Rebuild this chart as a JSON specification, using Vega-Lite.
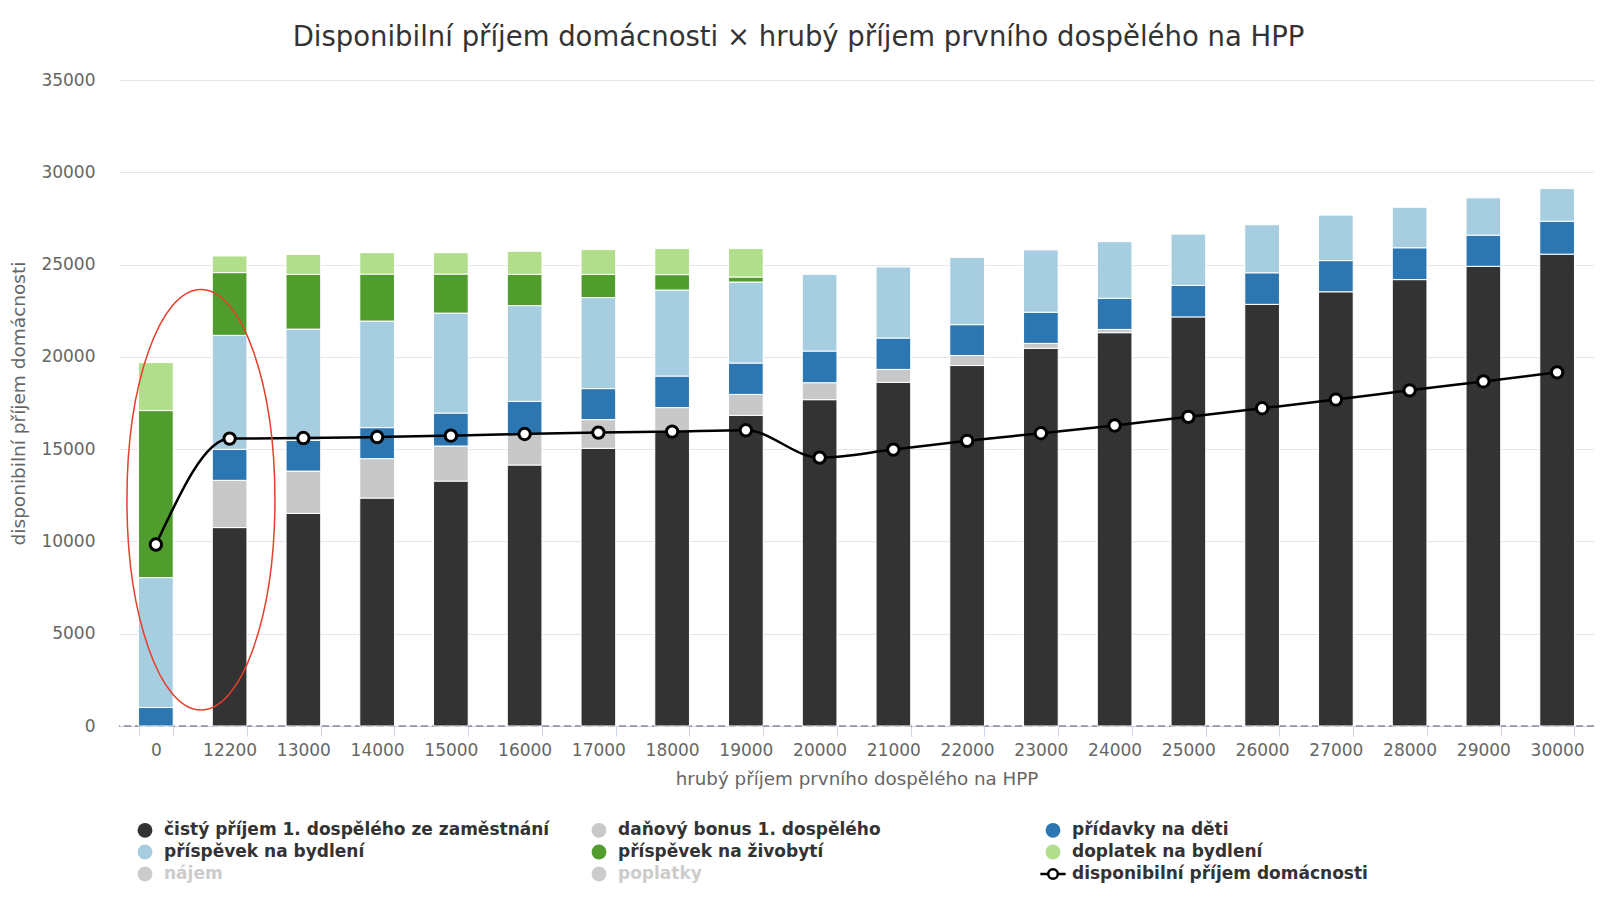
{
  "$schema": "https://vega.github.io/schema/vega-lite/v6.json",
  "width": 1475,
  "height": 646,
  "autosize": {"type": "none"},
  "padding": {"left": 119, "top": 80, "right": 14, "bottom": 179},
  "background": "#ffffff",
  "config": {"view": {"stroke": null}},
  "title": {
    "text": "Disponibilní příjem domácnosti × hrubý příjem prvního dospělého na HPP",
    "font": "DejaVu Sans",
    "fontSize": 27.5,
    "fontWeight": "normal",
    "color": "#333333",
    "anchor": "middle",
    "frame": "group",
    "dx": -58,
    "offset": 20
  },
  "datasets": {
    "bars": [
      {"x": "0", "series": "přídavky na děti", "value": 1000},
      {"x": "0", "series": "příspěvek na bydlení", "value": 7040},
      {"x": "0", "series": "příspěvek na živobytí", "value": 9050},
      {"x": "0", "series": "doplatek na bydlení", "value": 2600},
      {"x": "12200", "series": "čistý příjem 1. dospělého ze zaměstnání", "value": 10750},
      {"x": "12200", "series": "daňový bonus 1. dospělého", "value": 2560},
      {"x": "12200", "series": "přídavky na děti", "value": 1680},
      {"x": "12200", "series": "příspěvek na bydlení", "value": 6175},
      {"x": "12200", "series": "příspěvek na živobytí", "value": 3400},
      {"x": "12200", "series": "doplatek na bydlení", "value": 900},
      {"x": "13000", "series": "čistý příjem 1. dospělého ze zaměstnání", "value": 11520},
      {"x": "13000", "series": "daňový bonus 1. dospělého", "value": 2290},
      {"x": "13000", "series": "přídavky na děti", "value": 1665},
      {"x": "13000", "series": "příspěvek na bydlení", "value": 6030},
      {"x": "13000", "series": "příspěvek na živobytí", "value": 2965},
      {"x": "13000", "series": "doplatek na bydlení", "value": 1080},
      {"x": "14000", "series": "čistý příjem 1. dospělého ze zaměstnání", "value": 12350},
      {"x": "14000", "series": "daňový bonus 1. dospělého", "value": 2135},
      {"x": "14000", "series": "přídavky na děti", "value": 1680},
      {"x": "14000", "series": "příspěvek na bydlení", "value": 5775},
      {"x": "14000", "series": "příspěvek na živobytí", "value": 2545},
      {"x": "14000", "series": "doplatek na bydlení", "value": 1160},
      {"x": "15000", "series": "čistý příjem 1. dospělého ze zaměstnání", "value": 13270},
      {"x": "15000", "series": "daňový bonus 1. dospělého", "value": 1900},
      {"x": "15000", "series": "přídavky na děti", "value": 1785},
      {"x": "15000", "series": "příspěvek na bydlení", "value": 5415},
      {"x": "15000", "series": "příspěvek na živobytí", "value": 2115},
      {"x": "15000", "series": "doplatek na bydlení", "value": 1160},
      {"x": "16000", "series": "čistý příjem 1. dospělého ze zaměstnání", "value": 14140},
      {"x": "16000", "series": "daňový bonus 1. dospělého", "value": 1660},
      {"x": "16000", "series": "přídavky na děti", "value": 1790},
      {"x": "16000", "series": "příspěvek na bydlení", "value": 5185},
      {"x": "16000", "series": "příspěvek na živobytí", "value": 1695},
      {"x": "16000", "series": "doplatek na bydlení", "value": 1250},
      {"x": "17000", "series": "čistý příjem 1. dospělého ze zaměstnání", "value": 15045},
      {"x": "17000", "series": "daňový bonus 1. dospělého", "value": 1555},
      {"x": "17000", "series": "přídavky na děti", "value": 1680},
      {"x": "17000", "series": "příspěvek na bydlení", "value": 4930},
      {"x": "17000", "series": "příspěvek na živobytí", "value": 1260},
      {"x": "17000", "series": "doplatek na bydlení", "value": 1340},
      {"x": "18000", "series": "čistý příjem 1. dospělého ze zaměstnání", "value": 16000},
      {"x": "18000", "series": "daňový bonus 1. dospělého", "value": 1250},
      {"x": "18000", "series": "přídavky na děti", "value": 1710},
      {"x": "18000", "series": "příspěvek na bydlení", "value": 4660},
      {"x": "18000", "series": "příspěvek na živobytí", "value": 835},
      {"x": "18000", "series": "doplatek na bydlení", "value": 1410},
      {"x": "19000", "series": "čistý příjem 1. dospělého ze zaměstnání", "value": 16830},
      {"x": "19000", "series": "daňový bonus 1. dospělého", "value": 1135},
      {"x": "19000", "series": "přídavky na děti", "value": 1700},
      {"x": "19000", "series": "příspěvek na bydlení", "value": 4390},
      {"x": "19000", "series": "příspěvek na živobytí", "value": 270},
      {"x": "19000", "series": "doplatek na bydlení", "value": 1540},
      {"x": "20000", "series": "čistý příjem 1. dospělého ze zaměstnání", "value": 17680},
      {"x": "20000", "series": "daňový bonus 1. dospělého", "value": 920},
      {"x": "20000", "series": "přídavky na děti", "value": 1715},
      {"x": "20000", "series": "příspěvek na bydlení", "value": 4155},
      {"x": "21000", "series": "čistý příjem 1. dospělého ze zaměstnání", "value": 18620},
      {"x": "21000", "series": "daňový bonus 1. dospělého", "value": 700},
      {"x": "21000", "series": "přídavky na děti", "value": 1700},
      {"x": "21000", "series": "příspěvek na bydlení", "value": 3850},
      {"x": "22000", "series": "čistý příjem 1. dospělého ze zaměstnání", "value": 19530},
      {"x": "22000", "series": "daňový bonus 1. dospělého", "value": 545},
      {"x": "22000", "series": "přídavky na děti", "value": 1670},
      {"x": "22000", "series": "příspěvek na bydlení", "value": 3645},
      {"x": "23000", "series": "čistý příjem 1. dospělého ze zaměstnání", "value": 20460},
      {"x": "23000", "series": "daňový bonus 1. dospělého", "value": 270},
      {"x": "23000", "series": "přídavky na děti", "value": 1690},
      {"x": "23000", "series": "příspěvek na bydlení", "value": 3375},
      {"x": "24000", "series": "čistý příjem 1. dospělého ze zaměstnání", "value": 21310},
      {"x": "24000", "series": "daňový bonus 1. dospělého", "value": 175},
      {"x": "24000", "series": "přídavky na děti", "value": 1690},
      {"x": "24000", "series": "příspěvek na bydlení", "value": 3065},
      {"x": "25000", "series": "čistý příjem 1. dospělého ze zaměstnání", "value": 22165},
      {"x": "25000", "series": "přídavky na děti", "value": 1710},
      {"x": "25000", "series": "příspěvek na bydlení", "value": 2775},
      {"x": "26000", "series": "čistý příjem 1. dospělého ze zaměstnání", "value": 22845},
      {"x": "26000", "series": "přídavky na děti", "value": 1710},
      {"x": "26000", "series": "příspěvek na bydlení", "value": 2600},
      {"x": "27000", "series": "čistý příjem 1. dospělého ze zaměstnání", "value": 23525},
      {"x": "27000", "series": "přídavky na děti", "value": 1690},
      {"x": "27000", "series": "příspěvek na bydlení", "value": 2465},
      {"x": "28000", "series": "čistý příjem 1. dospělého ze zaměstnání", "value": 24185},
      {"x": "28000", "series": "přídavky na děti", "value": 1725},
      {"x": "28000", "series": "příspěvek na bydlení", "value": 2195},
      {"x": "29000", "series": "čistý příjem 1. dospělého ze zaměstnání", "value": 24905},
      {"x": "29000", "series": "přídavky na děti", "value": 1690},
      {"x": "29000", "series": "příspěvek na bydlení", "value": 2020},
      {"x": "30000", "series": "čistý příjem 1. dospělého ze zaměstnání", "value": 25565},
      {"x": "30000", "series": "přídavky na děti", "value": 1785},
      {"x": "30000", "series": "příspěvek na bydlení", "value": 1765}
    ],
    "line": [
      {"x": "0", "value": 9830},
      {"x": "12200", "value": 15570},
      {"x": "13000", "value": 15600},
      {"x": "14000", "value": 15655},
      {"x": "15000", "value": 15730},
      {"x": "16000", "value": 15820},
      {"x": "17000", "value": 15895},
      {"x": "18000", "value": 15950},
      {"x": "19000", "value": 16020},
      {"x": "20000", "value": 14540},
      {"x": "21000", "value": 14975},
      {"x": "22000", "value": 15450},
      {"x": "23000", "value": 15860},
      {"x": "24000", "value": 16285},
      {"x": "25000", "value": 16750},
      {"x": "26000", "value": 17215},
      {"x": "27000", "value": 17685},
      {"x": "28000", "value": 18185},
      {"x": "29000", "value": 18670},
      {"x": "30000", "value": 19160}
    ],
    "anno": [
      {"x": "0", "value": 12260}
    ]
  },
  "layer": [
    {
      "data": {"values": [{}]},
      "mark": {"type": "rule", "color": "#8a8a95", "strokeWidth": 1.5, "strokeDash": [7, 4]},
      "encoding": {"y": {"datum": 0, "type": "quantitative"}}
    },
    {
      "data": {"name": "bars"},
      "transform": [
        {"calculate": "indexof(['čistý příjem 1. dospělého ze zaměstnání', 'daňový bonus 1. dospělého', 'přídavky na děti', 'příspěvek na bydlení', 'příspěvek na živobytí', 'doplatek na bydlení'], datum.series)", "as": "k"}
      ],
      "mark": {"type": "bar", "stroke": "#ffffff", "strokeWidth": 1},
      "encoding": {
        "x": {
          "field": "x",
          "type": "nominal",
          "sort": null,
          "scale": {
            "domain": ["0", "12200", "13000", "14000", "15000", "16000", "17000", "18000", "19000", "20000", "21000", "22000", "23000", "24000", "25000", "26000", "27000", "28000", "29000", "30000"],
            "paddingInner": 0.53,
            "paddingOuter": 0.265
          },
          "axis": {
            "title": "hrubý příjem prvního dospělého na HPP",
            "labelAngle": 0,
            "tickBand": "extent",
            "tickColor": "#ccd6eb",
            "tickSize": 10,
            "domainColor": "#ccd6eb",
            "grid": false,
            "labelColor": "#666666",
            "labelFont": "DejaVu Sans",
            "labelFontSize": 17,
            "labelPadding": 6,
            "titleColor": "#666666",
            "titleFont": "DejaVu Sans",
            "titleFontSize": 18.3,
            "titleFontWeight": "normal",
            "titlePadding": 12
          }
        },
        "y": {
          "aggregate": "sum",
          "field": "value",
          "type": "quantitative",
          "stack": "zero",
          "scale": {"domain": [0, 35000]},
          "axis": {
            "title": "disponibilní příjem domácnosti",
            "values": [0, 5000, 10000, 15000, 20000, 25000, 30000, 35000],
            "format": "d",
            "grid": true,
            "gridColor": "#e6e6e6",
            "domain": false,
            "ticks": false,
            "labelPadding": 24,
            "labelColor": "#666666",
            "labelFont": "DejaVu Sans",
            "labelFontSize": 17,
            "titleColor": "#666666",
            "titleFont": "DejaVu Sans",
            "titleFontSize": 18.5,
            "titleFontWeight": "normal",
            "titlePadding": 12
          }
        },
        "order": {"field": "k", "type": "quantitative"},
        "color": {
          "field": "series",
          "type": "nominal",
          "sort": ["čistý příjem 1. dospělého ze zaměstnání", "daňový bonus 1. dospělého", "přídavky na děti", "příspěvek na bydlení", "příspěvek na živobytí", "doplatek na bydlení", "nájem", "poplatky", "disponibilní příjem domácnosti"],
          "scale": {
            "domain": ["čistý příjem 1. dospělého ze zaměstnání", "daňový bonus 1. dospělého", "přídavky na děti", "příspěvek na bydlení", "příspěvek na živobytí", "doplatek na bydlení", "nájem", "poplatky", "disponibilní příjem domácnosti"],
            "range": ["#333333", "#c8c8c8", "#2c77b1", "#a6cde0", "#509d2e", "#b1de8a", "#cccccc", "#cccccc", "#ffffff"]
          },
          "legend": {
            "title": null,
            "orient": "none",
            "legendX": 17,
            "legendY": 741,
            "direction": "horizontal",
            "columns": 3,
            "gridAlign": "all",
            "columnPadding": 31,
            "rowPadding": -4,
            "symbolSize": 220,
            "symbolType": {"expr": "datum.value === 'disponibilní příjem domácnosti' ? 'M-1.7,0L-0.65,0M0.65,0L1.7,0M-0.65,0A0.65,0.65 0 1,1 0.65,0A0.65,0.65 0 1,1 -0.65,0' : 'circle'"},
            "symbolStrokeColor": {"expr": "datum.value === 'disponibilní příjem domácnosti' ? '#000000' : 'transparent'"},
            "symbolStrokeWidth": 2.5,
            "labelFont": "DejaVu Sans",
            "labelFontSize": 17,
            "labelFontWeight": "bold",
            "labelColor": {"expr": "datum.label === 'nájem' || datum.label === 'poplatky' ? '#cccccc' : '#333333'"},
            "labelOffset": 10,
            "labelLimit": 600
          }
        }
      }
    },
    {
      "data": {"name": "line"},
      "mark": {"type": "line", "color": "#000000", "strokeWidth": 2.5, "interpolate": "monotone"},
      "encoding": {
        "x": {"field": "x", "type": "nominal", "sort": null},
        "y": {"field": "value", "type": "quantitative"}
      }
    },
    {
      "data": {"name": "line"},
      "mark": {"type": "point", "filled": true, "fill": "#ffffff", "stroke": "#000000", "strokeWidth": 3, "size": 130, "opacity": 1},
      "encoding": {
        "x": {"field": "x", "type": "nominal", "sort": null},
        "y": {"field": "value", "type": "quantitative"}
      }
    },
    {
      "data": {"name": "anno"},
      "mark": {
        "type": "point",
        "shape": "M0,-1A0.352,1 0 1,1 0,1A0.352,1 0 1,1 0,-1Z",
        "size": 176820,
        "filled": false,
        "fill": null,
        "stroke": "#e4402b",
        "strokeWidth": 1.5,
        "opacity": 1
      },
      "encoding": {
        "x": {"field": "x", "type": "nominal", "sort": null, "bandPosition": 1.8},
        "y": {"field": "value", "type": "quantitative"}
      }
    }
  ]
}
